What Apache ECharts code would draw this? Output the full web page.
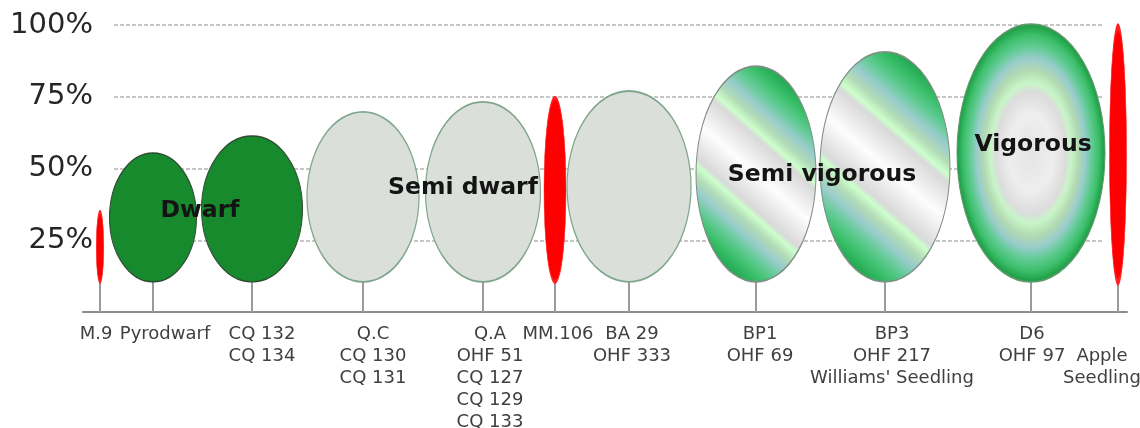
<!DOCTYPE html>
<html>
<head>
<meta charset="utf-8">
<script src="https://cdn.jsdelivr.net/npm/echarts@6/dist/echarts.min.js"></script>
<style>
  html, body { margin: 0; padding: 0; background: #fff; }
  #chart { width: 1140px; height: 428px; }
</style>
</head>
<body>
<div id="chart"></div>
<script>
// ---------- DATA ----------
// rootstocks, left to right
const rootstocks = ['M.9', 'Pyrodwarf', 'CQ 132', 'Q.C', 'Q.A', 'MM.106', 'BA 29', 'BP1', 'BP3', 'D6', 'Apple Seedling'];
// axis label lines for each rootstock
const labelLines = [
  ['M.9'],
  ['Pyrodwarf'],
  ['CQ 132', 'CQ 134'],
  ['Q.C', 'CQ 130', 'CQ 131'],
  ['Q.A', 'OHF 51', 'CQ 127', 'CQ 129', 'CQ 133'],
  ['MM.106'],
  ['BA 29', 'OHF 333'],
  ['BP1', 'OHF 69'],
  ['BP3', 'OHF 217', "Williams' Seedling"],
  ['D6', 'OHF 97'],
  ['Apple', 'Seedling']
];
// position along the horizontal axis (axis units)
const xPos = [17, 70, 169, 280, 400, 472, 546, 673, 802, 948, 1035];
// crown width (axis units)
const crownWidth = [7.5, 87, 101, 112, 115, 22, 124, 120, 130, 148, 17];
// relative tree size (%) : crown bottom and crown top
const crownBottom = [10.5, 10.5, 10.5, 10.5, 10.5, 10.5, 10.5, 10.5, 10.5, 10.5, 10.5];
const crownTop = [34.8, 55.4, 61.3, 69.7, 73.2, 74.6, 77.0, 85.7, 90.6, 100.3, 99.3];
// vigour class of each rootstock
const vigourClass = ['ref', 'dwarf', 'dwarf', 'semidwarf', 'semidwarf', 'ref', 'semidwarf', 'semivig', 'semivig', 'vig', 'ref'];
// y-axis tick values
const yTicks = [0, 25, 50, 75, 100];
// group names and where they are written (axis units, %)
const groupNames = ['Dwarf', 'Semi dwarf', 'Semi vigorous', 'Vigorous'];
const groupX = [117, 380, 739, 950];
const groupY = [35.2, 43.2, 47.7, 58.2];

// ---------- LAYOUT / STYLE ----------
const labelDx = [-4, 12, 10, 10, 7, 3, 3, 4, 7, 1, -16];
const labelRow = [0, 0, 0, 0, 0, 0, 0, 0, 0, 0, 1];
const LINE_H = 22;
const FONT = '"DejaVu Sans", Verdana, sans-serif';

const G = echarts.graphic;
const semiVigFill = new G.LinearGradient(0.72, 0.05, 0.28, 0.95, [
  { offset: 0.00, color: '#1fa64e' },
  { offset: 0.08, color: '#3cc06c' },
  { offset: 0.15, color: '#66cc99' },
  { offset: 0.21, color: '#99cccc' },
  { offset: 0.27, color: '#b3dbb6' },
  { offset: 0.32, color: '#ccffcc' },
  { offset: 0.35, color: '#d9d9d9' },
  { offset: 0.50, color: '#fdfdfd' },
  { offset: 0.65, color: '#d9d9d9' },
  { offset: 0.68, color: '#ccffcc' },
  { offset: 0.73, color: '#b3dbb6' },
  { offset: 0.79, color: '#99cccc' },
  { offset: 0.85, color: '#66cc99' },
  { offset: 0.92, color: '#3cc06c' },
  { offset: 1.00, color: '#1fa64e' }
]);
const vigFill = new G.RadialGradient(0.5, 0.5, 0.5, [
  { offset: 0.00, color: '#e4e4e4' },
  { offset: 0.30, color: '#eeeeee' },
  { offset: 0.47, color: '#dcdcdc' },
  { offset: 0.54, color: '#c8f5c8' },
  { offset: 0.64, color: '#b2d9b2' },
  { offset: 0.73, color: '#99cccc' },
  { offset: 0.81, color: '#66cc99' },
  { offset: 0.91, color: '#3cbf6a' },
  { offset: 1.00, color: '#18983f' }
]);
const styles = {
  ref: { fill: '#ff0000', stroke: '#ff2020', lineWidth: 0.5 },
  dwarf: { fill: '#178a2e', stroke: '#2e4a30', lineWidth: 1 },
  semidwarf: { fill: '#dadfda', stroke: '#7fa68c', lineWidth: 1.2 },
  semivig: { fill: semiVigFill, stroke: '#7f8f84', lineWidth: 1 },
  vig: { fill: vigFill, stroke: '#5f9a6c', lineWidth: 1 }
};

const treeData = rootstocks.map((n, i) => [xPos[i], crownBottom[i], crownTop[i], crownWidth[i]]);
const groupData = groupNames.map((n, i) => [groupX[i], groupY[i]]);

const chart = echarts.init(document.getElementById('chart'), null, { renderer: 'canvas' });
chart.setOption({
  animation: false,
  backgroundColor: '#ffffff',
  grid: [
    { left: 114, right: 38, top: 25, bottom: 116 },
    { left: 83, right: 13, top: 25, bottom: 116 }
  ],
  xAxis: [
    { gridIndex: 0, type: 'value', min: 0, max: 1, show: false },
    {
      gridIndex: 1, type: 'value', min: 0, max: 1044,
      axisLine: { show: true, lineStyle: { color: '#8c8c8c', width: 2 } },
      axisTick: { show: false }, axisLabel: { show: false }, splitLine: { show: false }
    }
  ],
  yAxis: [
    {
      gridIndex: 0, type: 'value', min: yTicks[0], max: yTicks[yTicks.length - 1], interval: 25,
      axisLine: { show: false }, axisTick: { show: false },
      axisLabel: {
        margin: 21, fontSize: 29, fontFamily: FONT, color: '#262626',
        formatter: v => (v === 0 ? '' : v + '%')
      },
      splitLine: { show: true, showMinLine: false, lineStyle: { color: '#b4b4b4', width: 1.5, type: [4, 2] } }
    },
    { gridIndex: 1, type: 'value', min: 0, max: 100, show: false }
  ],
  series: [
    {
      type: 'custom',
      xAxisIndex: 1, yAxisIndex: 1,
      data: treeData,
      z: 2,
      renderItem: function (params, api) {
        const i = params.dataIndex;
        const x = api.value(0), lo = api.value(1), hi = api.value(2), w = api.value(3);
        const pLo = api.coord([x, lo]);
        const pHi = api.coord([x, hi]);
        const p0 = api.coord([x, 0]);
        const pL = api.coord([x - w / 2, lo]);
        const pR = api.coord([x + w / 2, lo]);
        const rx = (pR[0] - pL[0]) / 2;
        const ry = (pLo[1] - pHi[1]) / 2;
        const cx = pLo[0], cy = (pLo[1] + pHi[1]) / 2;
        const st = styles[vigourClass[i]];
        return {
          type: 'group',
          children: [
            { type: 'line', shape: { x1: cx, y1: p0[1], x2: cx, y2: pLo[1] },
              style: { stroke: '#9a9a9a', lineWidth: 2 } },
            { type: 'circle', x: cx, y: cy, scaleY: ry / rx,
              shape: { cx: 0, cy: 0, r: rx },
              style: { fill: st.fill, stroke: st.stroke, lineWidth: st.lineWidth, strokeNoScale: true } },
            { type: 'text', x: cx + labelDx[i], y: p0[1] + 11 + labelRow[i] * LINE_H,
              style: { text: labelLines[i].join('\n'), fill: '#404040', fontSize: 18, fontFamily: FONT,
                align: 'center', verticalAlign: 'top', lineHeight: LINE_H } }
          ]
        };
      }
    },
    {
      type: 'custom',
      xAxisIndex: 1, yAxisIndex: 1,
      data: groupData,
      z: 5,
      renderItem: function (params, api) {
        const i = params.dataIndex;
        const p = api.coord([api.value(0), api.value(1)]);
        return {
          type: 'text', x: p[0], y: p[1],
          style: { text: groupNames[i], fill: '#141414', fontSize: 23.5, fontWeight: 'bold', fontFamily: FONT,
            align: 'center', verticalAlign: 'middle' }
        };
      }
    }
  ]
});
</script>
</body>
</html>
